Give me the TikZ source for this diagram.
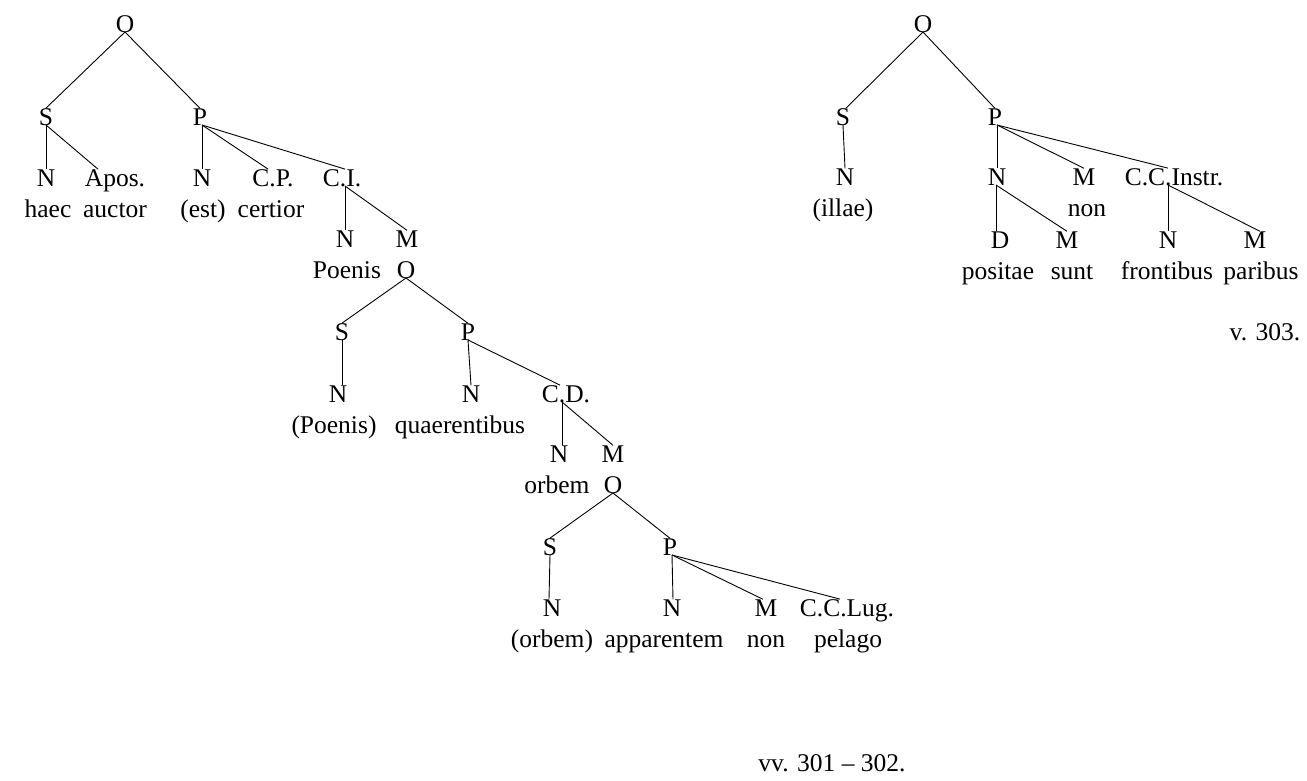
\documentclass[tikz,border=0pt]{standalone}
\usepackage{fontspec}
\setmainfont{Liberation Serif}
\begin{document}
\begin{tikzpicture}[x=1pt,y=-1pt,
  lab/.style={inner sep=0pt,outer sep=0pt,anchor=base,font=\fontsize{25.5}{31}\selectfont},
  edge/.style={line width=0.9pt}]
\useasboundingbox (0,0) rectangle (1307,780);

% ---------- first sentence ----------
\node[lab] (o1) at (125,32) {O};
\node[lab] (s1) at (46,125) {S};
\node[lab] (p1) at (200,125) {P};
\node[lab] (n1) at (46,186) {N};
\node[lab] (w1) at (48,217) {haec};
\node[lab] (apos) at (115,186) {Apos.};
\node[lab] (w2) at (115,217) {auctor};
\node[lab] (n2) at (202,186) {N};
\node[lab] (w3) at (203,217) {(est)};
\node[lab] (cp) at (273,186) {C.P.};
\node[lab] (w4) at (271,217) {certior};
\node[lab] (ci) at (342,186) {C.I.};
\node[lab] (n3) at (345,247) {N};
\node[lab] (w5) at (347,278) {Poenis};
\node[lab] (m1) at (407,247) {M};
\node[lab] (o2) at (406,278) {O};
\node[lab] (s2) at (342,340) {S};
\node[lab] (p2) at (468,340) {P};
\node[lab] (n4) at (338,402) {N};
\node[lab] (w6) at (334,433) {(Poenis)};
\node[lab] (n5) at (471,402) {N};
\node[lab] (w7) at (460,433) {quaerentibus};
\node[lab] (cd) at (566,402) {C.D.};
\node[lab] (n6) at (559,462) {N};
\node[lab] (w8) at (557,493) {orbem};
\node[lab] (m2) at (613,462) {M};
\node[lab] (o3) at (613,493) {O};
\node[lab] (s3) at (550,555) {S};
\node[lab] (p3) at (670,555) {P};
\node[lab] (n7) at (552,616) {N};
\node[lab] (w9) at (552,647) {(orbem)};
\node[lab] (n8) at (672,616) {N};
\node[lab] (w10) at (664,647) {apparentem};
\node[lab] (m3) at (766,616) {M};
\node[lab] (w11) at (766,647) {non};
\node[lab] (ccl) at (847,616) {C.C.Lug.};
\node[lab] (w12) at (848,647) {pelago};
\node[lab] (vv) at (832,771) {vv. 301 – 302.};

\draw[edge] (o1.base) -- (s1.north);
\draw[edge] (o1.base) -- (p1.north);
\draw[edge] (s1.base) -- (n1.north);
\draw[edge] (s1.base) -- ([xshift=-17pt]apos.north);
\draw[edge] ([xshift=2pt]p1.base) -- (n2.north);
\draw[edge] ([xshift=2pt]p1.base) -- ([xshift=-5pt]cp.north);
\draw[edge] ([xshift=2pt]p1.base) -- ([xshift=3pt]ci.north);
\draw[edge] ([xshift=3pt]ci.base) -- (n3.north);
\draw[edge] ([xshift=3pt]ci.base) -- (m1.north);
\draw[edge] (o2.base) -- (s2.north);
\draw[edge] (o2.base) -- (p2.north);
\draw[edge] (s2.base) -- ([xshift=4pt]n4.north);
\draw[edge] (p2.base) -- (n5.north);
\draw[edge] (p2.base) -- ([xshift=-6pt]cd.north);
\draw[edge] ([xshift=-4pt]cd.base) -- ([xshift=3pt]n6.north);
\draw[edge] ([xshift=-4pt]cd.base) -- (m2.north);
\draw[edge] (o3.base) -- (s3.north);
\draw[edge] (o3.base) -- (p3.north);
\draw[edge] (s3.base) -- ([xshift=-3pt]n7.north);
\draw[edge] ([xshift=2pt]p3.base) -- ([xshift=1pt]n8.north);
\draw[edge] ([xshift=2pt]p3.base) -- ([xshift=-3pt]m3.north);
\draw[edge] ([xshift=2pt]p3.base) -- ([xshift=-7pt]ccl.north);

% ---------- second sentence ----------
\node[lab] (o4) at (923,32) {O};
\node[lab] (s4) at (843,125) {S};
\node[lab] (p4) at (995,125) {P};
\node[lab] (n9) at (845,185) {N};
\node[lab] (w13) at (843,216) {(illae)};
\node[lab] (n10) at (997,185) {N};
\node[lab] (m4) at (1084,185) {M};
\node[lab] (w14) at (1087,216) {non};
\node[lab] (cci) at (1174,185) {C.C.Instr.};
\node[lab] (d1) at (1000,248) {D};
\node[lab] (w15) at (998,279) {positae};
\node[lab] (m5) at (1067,248) {M};
\node[lab] (w16) at (1072,279) {sunt};
\node[lab] (n11) at (1168,248) {N};
\node[lab] (w17) at (1167,279) {frontibus};
\node[lab] (m6) at (1255,248) {M};
\node[lab] (w18) at (1261,279) {paribus};
\node[lab] (v303) at (1265,340) {v. 303.};

\draw[edge] (o4.base) -- ([xshift=3pt]s4.north);
\draw[edge] (o4.base) -- (p4.north);
\draw[edge] ([xshift=2pt]p4.base) -- (n10.north);
\draw[edge] ([xshift=2pt]p4.base) -- (m4.north);
\draw[edge] ([xshift=2pt]p4.base) -- ([xshift=-6pt]cci.north);
\draw[edge] (s4.base) -- (n9.north);
\draw[edge] ([xshift=-1pt]n10.base) -- ([xshift=-4pt]d1.north);
\draw[edge] ([xshift=-1pt]n10.base) -- (m5.north);
\draw[edge] ([xshift=-6pt]cci.base) -- (n11.north);
\draw[edge] ([xshift=-6pt]cci.base) -- ([xshift=5pt]m6.north);
\end{tikzpicture}
\end{document}
